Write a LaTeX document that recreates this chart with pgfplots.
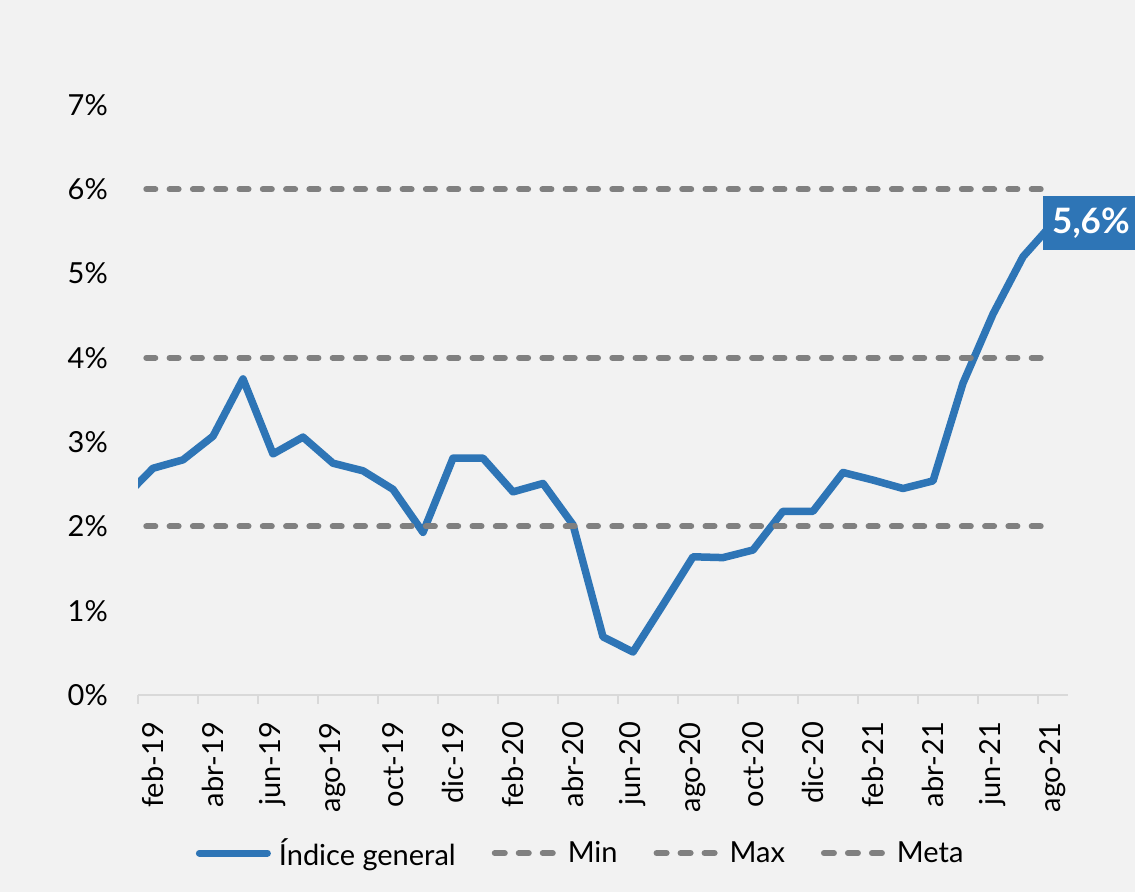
\documentclass[border=0pt]{standalone}
\usepackage{pgfplots}
\pgfplotsset{compat=1.18}
\usepackage{fontspec}
\setmainfont{Lato}
\definecolor{bgc}{HTML}{F2F2F2}
\definecolor{lineblue}{HTML}{2E75B6}
\definecolor{dgray}{HTML}{808080}
\definecolor{axgray}{HTML}{D9D9D9}
\newcommand{\fsz}{\fontsize{29bp}{34bp}\selectfont}
\begin{document}
\begin{tikzpicture}
\useasboundingbox (0,0) rectangle (1135bp,892bp);
\fill[bgc] (0,0) rectangle (1135bp,892bp);
\clip (0,0) rectangle (1135bp,892bp);
\begin{axis}[
  at={(138bp,197bp)}, anchor=south west,
  scale only axis, width=930bp, height=590bp,
  xmin=0.5, xmax=31.5, ymin=0, ymax=7,
  clip mode=individual,
  axis x line*=bottom, axis y line*=left,
  x axis line style={draw=axgray, line width=1.5bp, -},
  y axis line style={draw=none},
  ytick={0,1,...,7},
  yticklabel={\pgfmathprintnumber{\tick}\%},
  ytick style={draw=none},
  yticklabel style={font=\fsz, inner sep=0pt, xshift=-30bp},
  xtick={1,3,...,31},
  xticklabels={feb-19,abr-19,jun-19,ago-19,oct-19,dic-19,feb-20,abr-20,jun-20,ago-20,oct-20,dic-20,feb-21,abr-21,jun-21,ago-21},
  major x tick style={draw=axgray, line width=1.5bp},
  major tick length=0pt,
  xticklabel style={font=\fsz, rotate=90, anchor=east, inner sep=0pt, xshift=-27bp},
  extra x ticks={0.5,2.5,...,30.5},
  extra x tick labels={},
  extra x tick style={major tick length=9bp},
  tick align=outside,
  /pgf/number format/assume math mode=true,
  legend columns=4,
  legend style={draw=none, fill=none, font=\fsz, at={(0.476,-0.268)}, anchor=center,
    nodes={inner sep=2bp},
    /tikz/every even column/.append style={column sep=34bp},
    /tikz/every odd column/.append style={column sep=6bp},
    legend cell align=left, inner sep=0pt},
]
\addplot[lineblue, line width=7.5bp, line join=round, line cap=round,
  legend image code/.code={\draw[lineblue, line width=7bp, line cap=round] (0bp,0bp) -- (68bp,0bp);}]
coordinates {
(0,2.33) (1,2.69) (2,2.79) (3,3.07) (4,3.75) (5,2.86) (6,3.06) (7,2.75) (8,2.66) (9,2.44)
(10,1.93) (11,2.81) (12,2.81) (13,2.41) (14,2.51) (15,2.02) (16,0.69) (17,0.51) (18,1.07) (19,1.64)
(20,1.63) (21,1.72) (22,2.18) (23,2.18) (24,2.64) (25,2.55) (26,2.45) (27,2.54) (28,3.70) (29,4.52)
(30,5.20) (31,5.60)};
\addlegendentry{Índice general}
\addplot[dgray, line width=6bp, line cap=round, dash pattern=on 9bp off 14.3bp,
  legend image code/.code={\draw[dgray, line width=6bp, line cap=round, dash pattern=on 10bp off 14bp] (3bp,0bp) -- (65bp,0bp);}]
coordinates {(0,2) (31,2)};
\addlegendentry{Min}
\addplot[dgray, line width=6bp, line cap=round, dash pattern=on 9bp off 14.3bp,
  legend image code/.code={\draw[dgray, line width=6bp, line cap=round, dash pattern=on 10bp off 14bp] (3bp,0bp) -- (65bp,0bp);}]
coordinates {(0,6) (31,6)};
\addlegendentry{Max}
\addplot[dgray, line width=6bp, line cap=round, dash pattern=on 9bp off 14.3bp,
  legend image code/.code={\draw[dgray, line width=6bp, line cap=round, dash pattern=on 10bp off 14bp] (3bp,0bp) -- (65bp,0bp);}]
coordinates {(0,4) (31,4)};
\addlegendentry{Meta}
\node[anchor=west, fill=lineblue, text=white, font=\fontsize{35bp}{40bp}\selectfont\bfseries, minimum height=54bp, inner xsep=9bp, xshift=-10bp] at (axis cs:31,5.6) {5,6\%};
\end{axis}
\end{tikzpicture}
\end{document}
